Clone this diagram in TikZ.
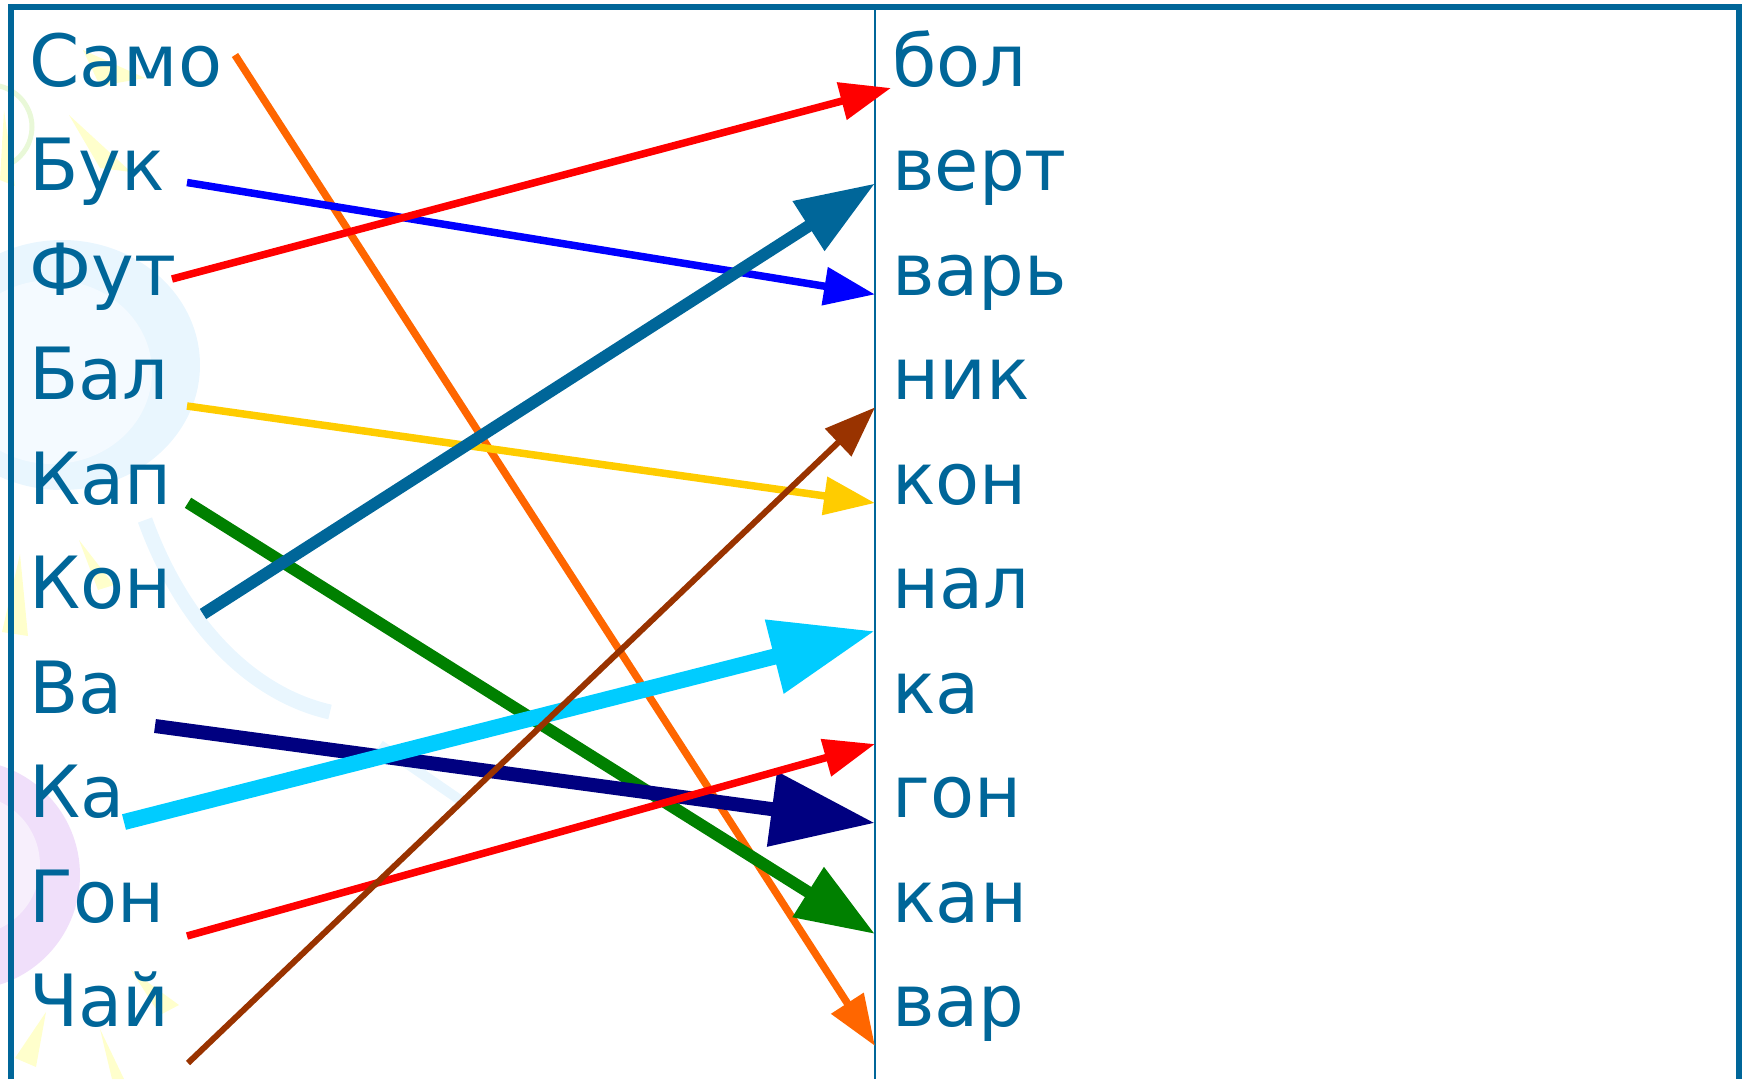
\documentclass[tikz,border=0pt]{standalone}
\usepackage{fontspec}
\setmainfont{DejaVu Sans}
\usetikzlibrary{arrows.meta, positioning}
\definecolor{framecol}{HTML}{006699}
\definecolor{orangeln}{HTML}{FF6600}
\definecolor{blueln}{HTML}{0000FF}
\definecolor{redln}{HTML}{FF0000}
\definecolor{yellowln}{HTML}{FFCC00}
\definecolor{greenln}{HTML}{008000}
\definecolor{navyln}{HTML}{000080}
\definecolor{cyanln}{HTML}{00CCFF}
\definecolor{brownln}{HTML}{993300}
\definecolor{skyfaint}{HTML}{E9F6FE}
\definecolor{skypale}{HTML}{F4FAFF}
\definecolor{lilac}{HTML}{F0DFFA}
\definecolor{lilacpale}{HTML}{F7EFFC}
\definecolor{sunfaint}{HTML}{FFFFCC}
\definecolor{leaffaint}{HTML}{E9F8D8}
\tikzstyle{word}=[anchor=base west, inner sep=0mm, text=framecol,
  font=\fontsize{41}{49}\selectfont]
\tikzstyle{thinarrow}=[line width=0.15cm, -{Triangle[length=1.02cm, width=0.74cm]}]
\tikzstyle{midarrow}=[line width=0.24cm, -{Triangle[length=1.58cm, width=1.12cm]}]
\tikzstyle{bigarrow}=[-{Triangle[length=2.08cm, width=1.44cm]}]
\tikzstyle{ray}=[fill=sunfaint]

\begin{document}
\begin{tikzpicture}[x=0.02cm, y=-0.02cm, inner sep=0mm]
  \useasboundingbox (0,0) rectangle (1747,1079);
  % faint background pictures
  \begin{scope}
    \clip (0,0) rectangle (1747,1079);
    \draw[leaffaint, line width=0.1cm] (-10,85) arc[start angle=-90, end angle=60, radius=42];
    \fill[ray] (83,50) -- (145,78) -- (100,86) -- cycle;
    \fill[ray] (69,115) -- (131,172) -- (100,168) -- cycle;
    \fill[ray] (4,110) -- (15,186) -- (0,180) -- cycle;
    \fill[skyfaint] (62,365) ellipse (138 and 125);
    \fill[skypale] (52,372) ellipse (100 and 92);
    \draw[skyfaint, line width=0.3cm] (145,520) .. controls (185,630) and (255,695) .. (330,712);
    \draw[skyfaint, line width=0.2cm] (380,745) -- (460,800);
    \fill[ray] (79,540) -- (114,585) -- (98,590) -- cycle;
    \fill[ray] (20,554) -- (28,636) -- (2,632) -- cycle;
    \fill[lilac] (-35,875) circle (115);
    \fill[lilacpale] (-30,865) circle (70);
    \fill[ray] (131,970) -- (179,1005) -- (160,1015) -- cycle;
    \fill[ray] (46,1012) -- (36,1067) -- (15,1058) -- cycle;
    \fill[ray] (100,1029) -- (124,1079) -- (112,1079) -- cycle;
  \end{scope}
  % frame and divider
  \draw[framecol, line width=0.12cm] (11,1079) -- (11,7) -- (1739,7) -- (1739,1079);
  \draw[framecol, line width=0.05cm] (875,7) -- (875,1079);
  % first halves
  \node[word] (samo) at (29,86) {Само};
  \node[word] (buk) at (29,190.5) {Бук};
  \node[word] (fut) at (29,295) {Фут};
  \node[word] (bal) at (29,399.5) {Бал};
  \node[word] (kap) at (29,504) {Кап};
  \node[word] (kon) at (29,608.5) {Кон};
  \node[word] (va) at (29,713) {Ва};
  \node[word] (ka) at (29,817.5) {Ка};
  \node[word] (gon) at (29,922) {Гон};
  \node[word] (chaj) at (29,1026.5) {Чай};
  % second halves
  \node[word] (bol) at (892,86) {бол};
  \node[word] (vert) at (892,190.5) {верт};
  \node[word] (var) at (892,295) {варь};
  \node[word] (nik) at (892,399.5) {ник};
  \node[word] (kon2) at (892,504) {кон};
  \node[word] (nal) at (892,608.5) {нал};
  \node[word] (ka2) at (892,713) {ка};
  \node[word] (gon2) at (892,817.5) {гон};
  \node[word] (kan) at (892,922) {кан};
  \node[word] (var2) at (892,1026.5) {вар};
  % arrow ends
  \coordinate (samo-s) at (235,55);   \coordinate (var2-t) at (875,1046);
  \coordinate (buk-s) at (187,182.5); \coordinate (var-t) at (875,294.4);
  \coordinate (fut-s) at (172,279);   \coordinate (bol-t) at (891,88);
  \coordinate (bal-s) at (187,406);   \coordinate (kon2-t) at (875,503);
  \coordinate (kap-s) at (188,502.8); \coordinate (kan-t) at (875,934);
  \coordinate (kon-s) at (203,614);   \coordinate (vert-t) at (875,183.5);
  \coordinate (va-s) at (155,726);    \coordinate (gon2-t) at (875,823);
  \coordinate (ka-s) at (124,822);    \coordinate (nal-t) at (875,631);
  \coordinate (gon-s) at (187,936);   \coordinate (ka2-t) at (875,744);
  \coordinate (chaj-s) at (188,1063); \coordinate (nik-t) at (875,407.4);
  % matching arrows
  \draw[thinarrow, orangeln] (samo-s) -- (var2-t);
  \draw[thinarrow, blueln] (buk-s) -- (var-t);
  \draw[thinarrow, redln] (fut-s) -- (bol-t);
  \draw[thinarrow, yellowln] (bal-s) -- (kon2-t);
  \draw[midarrow, greenln] (kap-s) -- (kan-t);
  \draw[midarrow, framecol] (kon-s) -- (vert-t);
  \draw[bigarrow, navyln, line width=0.28cm] (va-s) -- (gon2-t);
  \draw[bigarrow, cyanln, line width=0.32cm] (ka-s) -- (nal-t);
  \draw[thinarrow, redln] (gon-s) -- (ka2-t);
  \draw[thinarrow, brownln, line width=0.12cm] (chaj-s) -- (nik-t);
\end{tikzpicture}
\end{document}
